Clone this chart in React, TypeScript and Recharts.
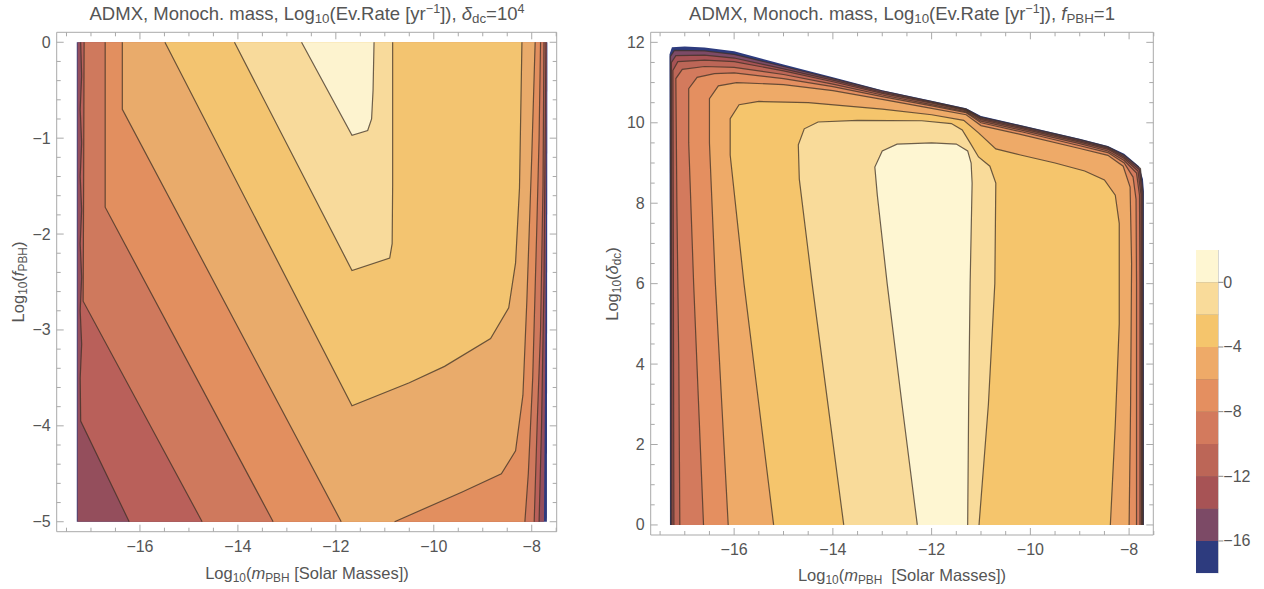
import React from 'react'
import { Curve, Polygon, ReferenceLine, Scatter, ScatterChart, XAxis, YAxis } from 'recharts'

type XY = [number, number]

const FONT = '"Liberation Sans", Arial, Helvetica, sans-serif'
const FRAME = '#a9a9a9'
const TXT = '#555555'
const LINE = '#3e3026'

// ---- left panel (delta_dc = 1e4): x = log10 m, y = log10 f
const L_X_MAJOR = [-16, -14, -12, -10, -8]
const L_X_MINOR = [-17.5, -17, -16.5, -15.5, -15, -14.5, -13.5, -13, -12.5, -11.5, -11, -10.5, -9.5, -9, -8.5, -7.5]
const L_Y_MAJOR = [0, -1, -2, -3, -4, -5]
const L_Y_MINOR = [-0.2, -0.4, -0.6, -0.8, -1.2, -1.4, -1.6, -1.8, -2.2, -2.4, -2.6, -2.8, -3.2, -3.4, -3.6, -3.8, -4.2, -4.4, -4.6, -4.8]

const L_EDGE: XY[] = [[-17.29, 0], [-17.29, -5], [-7.69, -5], [-7.68, 0]]
const L7_A: XY[] = [[-17.275, 0], [-17.275, -5]]
const L7_B: XY[] = [[-7.75, -5], [-7.72, -3], [-7.69, 0]]
const L6_A: XY[] = [[-17.21, 0], [-17.19, -0.35], [-17.22, -0.7], [-17.19, -1.05], [-17.22, -1.4], [-17.19, -1.75], [-17.22, -2.1], [-17.19, -2.45], [-17.22, -2.8], [-17.19, -3.15], [-17.22, -3.5], [-17.21, -3.95], [-16.22, -5]]
const L6_B: XY[] = [[-7.85, -5], [-7.8, -4], [-7.75, -2.5], [-7.71, 0]]
const L5_A: XY[] = [[-17.14, 0], [-17.15, -1.5], [-17.16, -2.7], [-14.73, -5]]
const L5_B: XY[] = [[-7.95, -5], [-7.89, -4], [-7.82, -3], [-7.77, -1.5], [-7.75, 0]]
const L4_A: XY[] = [[-16.71, 0], [-16.71, -1.72], [-13.28, -5]]
const L4_B: XY[] = [[-8.14, -5], [-8.07, -4.5], [-7.98, -3.5], [-7.9, -2], [-7.85, -1], [-7.82, 0]]
const L3_A: XY[] = [[-16.36, 0], [-16.36, -0.7], [-11.89, -5]]
const L3_B: XY[] = [[-10.8, -5], [-9.42, -4.69], [-8.62, -4.5], [-8.33, -4.26], [-8.18, -3.68], [-8.1, -2.7], [-8.0, -1.2], [-7.93, 0]]
const L2: XY[] = [[-15.49, 0], [-11.67, -3.79], [-10.5, -3.55], [-9.78, -3.38], [-8.84, -3.09], [-8.47, -2.77], [-8.33, -2.3], [-8.25, -1.52], [-8.2, 0]]
const L1: XY[] = [[-14.07, 0], [-11.67, -2.38], [-10.9, -2.25], [-10.85, -2.1], [-10.84, -1.5], [-10.84, 0]]
const L0: XY[] = [[-12.7, 0], [-11.67, -0.97], [-11.35, -0.92], [-11.27, -0.8], [-11.24, -0.5], [-11.22, 0]]
const L_COLORS = ['#2e3a7d', '#944e5c', '#b9605a', '#cf795d', '#e28f5f', '#e9ab6b', '#f3c470', '#f8da9b', '#fdf3cf']

// ---- right panel (f_PBH = 1): x = log10 m, y = log10 delta_dc
const R_X_MAJOR = [-16, -14, -12, -10, -8]
const R_X_MINOR = [-17.5, -17, -16.5, -15.5, -15, -14.5, -13.5, -13, -12.5, -11.5, -11, -10.5, -9.5, -9, -8.5, -7.5]
const R_Y_MAJOR = [0, 2, 4, 6, 8, 10, 12]
const R_Y_MINOR = [0.5, 1, 1.5, 2.5, 3, 3.5, 4.5, 5, 5.5, 6.5, 7, 7.5, 8.5, 9, 9.5, 10.5, 11, 11.5]

const R_EDGE: XY[] = [[-17.3, 0], [-17.31, 11.7], [-17.26, 11.88], [-17.0, 11.9], [-16.6, 11.87], [-16, 11.78], [-15, 11.45], [-14, 11.13], [-13, 10.81], [-12, 10.55], [-11.3, 10.36], [-11.0, 10.17], [-10.16, 9.93], [-9, 9.6], [-8.43, 9.42], [-8.1, 9.23], [-7.8, 8.92], [-7.72, 8.6], [-7.7, 8.3], [-7.7, 0]]
const R16: XY[] = [[-17.28, 0], [-17.29, 11.65], [-17.21, 11.8], [-16.6, 11.79], [-16, 11.7], [-15, 11.4], [-14, 11.1], [-13, 10.79], [-12, 10.53], [-11.3, 10.34], [-11.0, 10.14], [-10.16, 9.91], [-9, 9.58], [-8.43, 9.4], [-8.1, 9.19], [-7.77, 8.86], [-7.72, 8.28], [-7.715, 0]]
const R14: XY[] = [[-17.26, 0], [-17.27, 11.5], [-17.18, 11.67], [-16.6, 11.68], [-16, 11.61], [-15, 11.34], [-14, 11.06], [-13, 10.76], [-12, 10.51], [-11.3, 10.32], [-11.0, 10.11], [-10.16, 9.88], [-9, 9.55], [-8.43, 9.37], [-8.1, 9.15], [-7.79, 8.83], [-7.74, 8.25], [-7.73, 0]]
const R12: XY[] = [[-17.22, 0], [-17.23, 6], [-17.24, 11.3], [-17.14, 11.52], [-16.6, 11.56], [-16, 11.52], [-15, 11.29], [-14, 11.02], [-13, 10.73], [-12, 10.49], [-11.3, 10.3], [-11.0, 10.08], [-10.16, 9.85], [-9, 9.52], [-8.43, 9.34], [-8.1, 9.11], [-7.82, 8.8], [-7.76, 8.22], [-7.75, 0]]
const R10: XY[] = [[-17.1, 0], [-17.12, 4], [-17.16, 8], [-17.18, 11.1], [-17.05, 11.33], [-16.6, 11.4], [-16, 11.38], [-15, 11.2], [-14, 10.96], [-13, 10.69], [-12, 10.45], [-11.3, 10.27], [-11.0, 10.04], [-10.16, 9.81], [-9, 9.48], [-8.43, 9.3], [-8.1, 9.06], [-7.85, 8.75], [-7.79, 8.2], [-7.78, 6], [-7.78, 0]]
const R8: XY[] = [[-16.62, 0], [-16.72, 3], [-16.82, 6], [-16.92, 9.5], [-16.92, 10.85], [-16.75, 11.13], [-16.4, 11.22], [-16, 11.24], [-15, 11.1], [-14, 10.9], [-13, 10.65], [-12, 10.42], [-11.3, 10.25], [-11.0, 10.0], [-10.16, 9.77], [-9, 9.43], [-8.43, 9.26], [-8.1, 9.0], [-7.92, 8.65], [-7.86, 8.1], [-7.85, 6], [-7.85, 0]]
const R6: XY[] = [[-16.12, 0], [-16.25, 3], [-16.38, 6], [-16.5, 9.5], [-16.5, 10.6], [-16.32, 10.92], [-15.95, 11.0], [-15, 10.95], [-14, 10.8], [-13, 10.58], [-12, 10.36], [-11.3, 10.2], [-11.0, 9.93], [-10.16, 9.7], [-9, 9.36], [-8.43, 9.19], [-8.12, 8.92], [-7.98, 8.4], [-7.95, 6.5], [-7.97, 3], [-8.0, 0]]
const R4: XY[] = [[-15.2, 0], [-15.5, 3], [-15.8, 6], [-16.08, 9.2], [-16.08, 10.1], [-15.9, 10.45], [-15.5, 10.53], [-14.5, 10.5], [-13, 10.34], [-12, 10.2], [-11.35, 10.06], [-11.05, 9.75], [-10.7, 9.35], [-10.2, 9.2], [-9.5, 9.0], [-8.9, 8.8], [-8.5, 8.58], [-8.28, 8.2], [-8.2, 7.5], [-8.2, 5], [-8.28, 2.5], [-8.38, 0]]
const R2: XY[] = [[-13.78, 0], [-14.1, 3], [-14.42, 6], [-14.68, 8.6], [-14.7, 9.45], [-14.58, 9.85], [-14.3, 10.02], [-13.5, 10.06], [-12.2, 10.05], [-11.6, 9.98], [-11.38, 9.82], [-11.22, 9.5], [-11.05, 9.15], [-10.82, 8.92], [-10.7, 8.5], [-10.72, 6], [-10.85, 3], [-11.04, 0]]
const R0: XY[] = [[-12.29, 0], [-12.6, 3], [-12.9, 6], [-13.1, 8.2], [-13.15, 8.9], [-13.0, 9.3], [-12.7, 9.47], [-12.0, 9.5], [-11.5, 9.47], [-11.27, 9.3], [-11.2, 9.0], [-11.18, 8.5], [-11.22, 6], [-11.25, 3], [-11.27, 0]]

// ---- colour bar (shared by right panel)
const BAR_LEVELS = [-18, -16, -14, -12, -10, -8, -6, -4, -2, 0, 2]
const BAR_COLORS = ['#2d3b7e', '#7c4a66', '#a75355', '#bc6657', '#d37a5d', '#e48f60', '#eeaa68', '#f5c56c', '#f9db9a', '#fef6d2']
const BAR_TICKS = [0, -4, -8, -12, -16]

const toData = (pts: XY[]) => pts.map(([x, y]) => ({ x, y }))
const noDot = () => <g />
const fmt = (v: number) => (v < 0 ? '\u2212' + Math.abs(v) : String(v))
const isMajor = (majors: number[], v: number) => majors.some((m) => Math.abs(m - v) < 1e-6)

function fillSeries(key: string, pts: XY[], color: string) {
	return (
		<Scatter
			key={key}
			data={toData(pts)}
			xAxisId="b"
			yAxisId="l"
			shape={noDot}
			legendType="none"
			isAnimationActive={false}
			line={(p: any) => <Polygon points={p.points} fill={color} stroke="none" />}
		/>
	)
}

function lineSeries(key: string, pts: XY[]) {
	return (
		<Scatter
			key={key}
			data={toData(pts)}
			xAxisId="b"
			yAxisId="l"
			shape={noDot}
			legendType="none"
			isAnimationActive={false}
			line={(p: any) => (
				<Curve points={p.points} type="linear" fill="none" stroke={LINE} strokeWidth={1.2} strokeOpacity={0.75} />
			)}
		/>
	)
}

function frameTick(side: string, majors: number[], labels: boolean) {
	return (p: any) => {
		const v = p.payload.value
		const major = isMajor(majors, v)
		const len = major ? 7 : 4
		const { x, y } = p
		const txt = { fontFamily: FONT, fontSize: 16, fill: TXT }
		if (side === 'bottom') {
			return (
				<g>
					<line x1={x} y1={y} x2={x} y2={y - len} stroke={FRAME} />
					{labels && major && (
						<text x={x} y={y + 20} textAnchor="middle" {...txt}>
							{fmt(v)}
						</text>
					)}
				</g>
			)
		}
		if (side === 'top') return <line x1={x} y1={y} x2={x} y2={y + len} stroke={FRAME} />
		if (side === 'right') return <line x1={x} y1={y} x2={x - len} y2={y} stroke={FRAME} />
		return (
			<g>
				<line x1={x} y1={y} x2={x + len} y2={y} stroke={FRAME} />
				{labels && major && (
					<text x={x - 6} y={y + 5.5} textAnchor="end" {...txt}>
						{fmt(v)}
					</text>
				)}
			</g>
		)
	}
}

type PanelProps = {
	left: number
	margin: { top: number; right: number; bottom: number; left: number }
	xDomain: [number, number]
	yDomain: [number, number]
	xMajor: number[]
	xMinor: number[]
	yMajor: number[]
	yMinor: number[]
	fills: Array<{ pts: XY[]; color: string }>
	lines: XY[][]
}

function ContourPanel(props: PanelProps) {
	const { xDomain, yDomain } = props
	const xTicks = [...props.xMajor, ...props.xMinor].sort((a, b) => a - b)
	const yTicks = [...props.yMajor, ...props.yMinor].sort((a, b) => a - b)
	const corners: XY[] = [[xDomain[0], yDomain[0]], [xDomain[1], yDomain[1]]]
	const axisLine = { stroke: FRAME }
	return (
		<div style={{ position: 'absolute', left: props.left, top: 0 }}>
			<ScatterChart width={580} height={589} margin={props.margin}>
				<XAxis xAxisId="b" type="number" dataKey="x" domain={xDomain} allowDataOverflow ticks={xTicks} interval={0}
					tickSize={0} tickMargin={0} tickLine={false} axisLine={axisLine} height={30} tick={frameTick('bottom', props.xMajor, true)} />
				<XAxis xAxisId="t" orientation="top" type="number" dataKey="x" domain={xDomain} allowDataOverflow ticks={xTicks} interval={0}
					tickSize={0} tickMargin={0} tickLine={false} axisLine={axisLine} height={1} tick={frameTick('top', props.xMajor, false)} />
				<YAxis yAxisId="l" type="number" dataKey="y" domain={yDomain} allowDataOverflow ticks={yTicks} interval={0}
					tickSize={0} tickMargin={0} tickLine={false} axisLine={axisLine} width={40} tick={frameTick('left', props.yMajor, true)} />
				<YAxis yAxisId="r" orientation="right" type="number" dataKey="y" domain={yDomain} allowDataOverflow ticks={yTicks} interval={0}
					tickSize={0} tickMargin={0} tickLine={false} axisLine={axisLine} width={1} tick={frameTick('right', props.yMajor, false)} />
				{props.fills.map((f, i) => fillSeries('f' + i, f.pts, f.color))}
				{props.lines.map((l, i) => lineSeries('l' + i, l))}
				<Scatter data={toData(corners)} xAxisId="t" yAxisId="r" shape={noDot} legendType="none" isAnimationActive={false} />
			</ScatterChart>
		</div>
	)
}

function ColorBar() {
	const bands = BAR_COLORS.map((color, i) => ({
		color,
		pts: [[0, BAR_LEVELS[i]], [1, BAR_LEVELS[i]], [1, BAR_LEVELS[i + 1]], [0, BAR_LEVELS[i + 1]]] as XY[]
	}))
	const inner = BAR_LEVELS.slice(1, -1)
	return (
		<div style={{ position: 'absolute', left: 1180, top: 0 }}>
			<ScatterChart width={84} height={589} margin={{ top: 250, right: 5.7, bottom: 15.7, left: 16 }}>
				<XAxis xAxisId="c" type="number" dataKey="x" domain={[0, 1]} allowDataOverflow hide />
				<YAxis yAxisId="c" orientation="right" type="number" dataKey="y" domain={[-18, 2]} allowDataOverflow ticks={BAR_TICKS}
					interval={0} tickSize={0} tickMargin={0} tickLine={false} axisLine={{ stroke: '#c8c8c8' }} width={40}
					tick={(p: any) => (
						<g>
							<line x1={p.x} y1={p.y} x2={p.x + 5} y2={p.y} stroke="#888" />
							<text x={p.x + 5} y={p.y + 5.5} fontFamily={FONT} fontSize={16} fill={TXT}>
								{fmt(p.payload.value)}
							</text>
						</g>
					)}
				/>
				{bands.map((b, i) => (
					<Scatter key={i} data={toData(b.pts)} xAxisId="c" yAxisId="c" shape={noDot} legendType="none" isAnimationActive={false}
						line={(p: any) => <Polygon points={p.points} fill={b.color} stroke="none" />} />
				))}
				{inner.map((lv) => (
					<ReferenceLine key={lv} xAxisId="c" yAxisId="c" y={lv} stroke={LINE} strokeWidth={1.2} strokeOpacity={0.75} />
				))}
			</ScatterChart>
		</div>
	)
}

const sub: React.CSSProperties = { fontSize: '0.72em', verticalAlign: '-0.28em', lineHeight: 0 }
const sup: React.CSSProperties = { fontSize: '0.68em', verticalAlign: '0.5em', lineHeight: 0 }

function Txt({ x, y, size, rotate, children }: { x: number; y: number; size: number; rotate?: boolean; children: React.ReactNode }) {
	return (
		<div
			style={{
				position: 'absolute',
				left: x,
				top: y,
				transform: `translate(-50%, -50%)${rotate ? ' rotate(-90deg)' : ''}`,
				whiteSpace: 'nowrap',
				fontFamily: FONT,
				fontSize: size,
				color: TXT,
				lineHeight: 1
			}}
		>
			{children}
		</div>
	)
}

export default function App() {
	return (
		<div style={{ position: 'fixed', left: 0, top: 0, width: 1264, height: 589, background: '#fff', overflow: 'hidden' }}>
			<ContourPanel
				left={0}
				margin={{ top: 31.3, right: 22.3, bottom: 27.3, left: 16.7 }}
				xDomain={[-17.7, -7.49]}
				yDomain={[-5.104, 0.104]}
				xMajor={L_X_MAJOR}
				xMinor={L_X_MINOR}
				yMajor={L_Y_MAJOR}
				yMinor={L_Y_MINOR}
				fills={[
					{ pts: L_EDGE, color: L_COLORS[0] },
					{ pts: [...L7_A, ...L7_B], color: L_COLORS[1] },
					{ pts: [...L6_A, ...L6_B], color: L_COLORS[2] },
					{ pts: [...L5_A, ...L5_B], color: L_COLORS[3] },
					{ pts: [...L4_A, ...L4_B], color: L_COLORS[4] },
					{ pts: [...L3_A, ...L3_B], color: L_COLORS[5] },
					{ pts: L2, color: L_COLORS[6] },
					{ pts: L1, color: L_COLORS[7] },
					{ pts: L0, color: L_COLORS[8] }
				]}
				lines={[L6_A, L6_B, L5_A, L5_B, L4_A, L4_B, L3_A, L3_B, L2, L1, L0]}
			/>
			<ContourPanel
				left={600}
				margin={{ top: 31.3, right: 25.7, bottom: 24, left: 10.7 }}
				xDomain={[-17.69, -7.51]}
				yDomain={[-0.25, 12.25]}
				xMajor={R_X_MAJOR}
				xMinor={R_X_MINOR}
				yMajor={R_Y_MAJOR}
				yMinor={R_Y_MINOR}
				fills={[R_EDGE, R16, R14, R12, R10, R8, R6, R4, R2, R0].map((pts, i) => ({ pts, color: BAR_COLORS[i] }))}
				lines={[R16, R14, R12, R10, R8, R6, R4, R2, R0]}
			/>
			<ColorBar />
			<Txt x={307} y={14} size={18.5}>
				ADMX, Monoch. mass, Log<span style={sub}>10</span>(Ev.Rate [yr<span style={sup}>{'\u2212'}1</span>]), <i>δ</i>
				<span style={sub}>dc</span>=10<span style={sup}>4</span>
			</Txt>
			<Txt x={902} y={14} size={18.5}>
				ADMX, Monoch. mass, Log<span style={sub}>10</span>(Ev.Rate [yr<span style={sup}>{'\u2212'}1</span>]), <i>f</i>
				<span style={sub}>PBH</span>=1
			</Txt>
			<Txt x={307} y={573} size={16.5}>
				Log<span style={sub}>10</span>(<i>m</i><span style={sub}>PBH</span> [Solar Masses])
			</Txt>
			<Txt x={902} y={575} size={16.5}>
				Log<span style={sub}>10</span>(<i>m</i><span style={sub}>PBH</span>&nbsp; [Solar Masses])
			</Txt>
			<Txt x={18} y={282} size={16.5} rotate>
				Log<span style={sub}>10</span>(<i>f</i><span style={sub}>PBH</span>)
			</Txt>
			<Txt x={612} y={284} size={16.5} rotate>
				Log<span style={sub}>10</span>(<i>δ</i><span style={sub}>dc</span>)
			</Txt>
		</div>
	)
}
